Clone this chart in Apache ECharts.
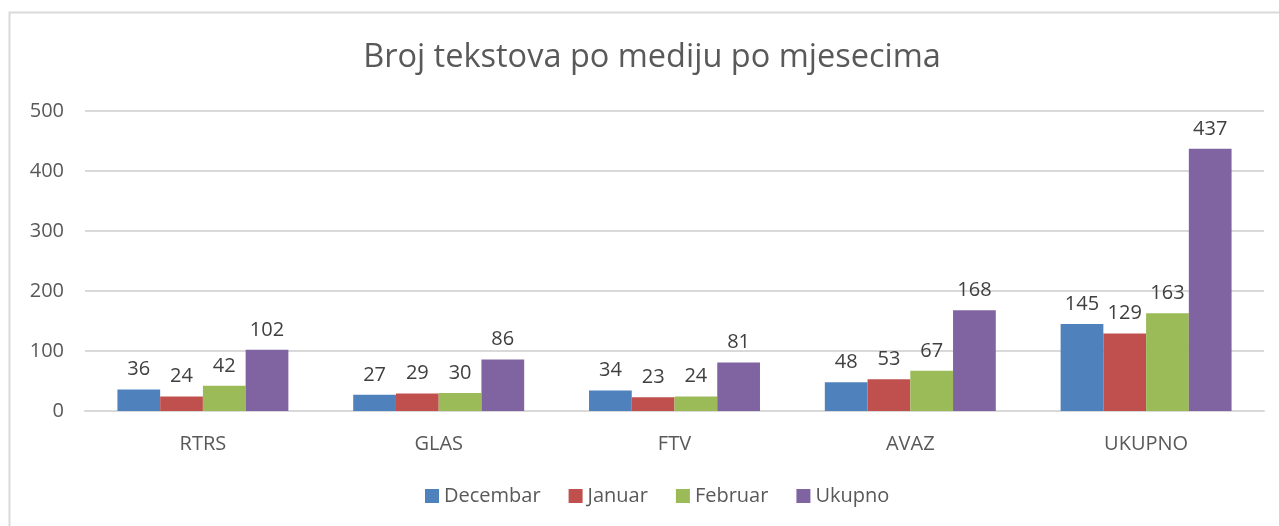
<!DOCTYPE html>
<html>
<head>
<meta charset="utf-8">
<script src="https://cdn.jsdelivr.net/npm/echarts@6/dist/echarts.min.js"></script>
<style>
  html, body { margin: 0; padding: 0; background: #fff; }
  #chart { width: 1279px; height: 526px; }
</style>
</head>
<body>
<div id="chart"></div>
<script>
const categories = ['RTRS', 'GLAS', 'FTV', 'AVAZ', 'UKUPNO'];
const decembar = [36, 27, 34, 48, 145];
const januar = [24, 29, 23, 53, 129];
const februar = [42, 30, 24, 67, 163];
const ukupno = [102, 86, 81, 168, 437];

const font = '"Open Sans", sans-serif';

const chart = echarts.init(document.getElementById('chart'));

const makeSeries = (name, data, color) => ({
  name: name,
  type: 'bar',
  data: data,
  barGap: '0%',
  barCategoryGap: '27.5%',
  itemStyle: { color: color },
  label: {
    show: true,
    position: 'top',
    distance: 10,
    color: '#404040',
    fontSize: 20,
    fontFamily: font
  }
});

chart.setOption({
  backgroundColor: '#ffffff',
  animation: false,
  graphic: [
    {
      type: 'rect',
      shape: { x: 9.5, y: 12.5, width: 1400, height: 600 },
      style: { fill: 'none', stroke: '#d9d9d9', lineWidth: 2 },
      silent: true
    }
  ],
  title: {
    text: 'Broj tekstova po mediju po mjesecima',
    left: 647,
    textAlign: 'center',
    top: 36,
    textStyle: { color: '#595959', fontSize: 32.5, fontWeight: 'normal', fontFamily: font }
  },
  legend: {
    data: ['Decembar', 'Januar', 'Februar', 'Ukupno'],
    bottom: 15,
    left: 420,
    itemWidth: 14,
    itemHeight: 14,
    itemGap: 28,
    icon: 'rect',
    textStyle: { color: '#595959', fontSize: 20, fontFamily: font }
  },
  grid: {
    left: 85,
    right: 15,
    top: 111,
    bottom: 115
  },
  xAxis: {
    type: 'category',
    data: categories,
    axisLine: { lineStyle: { color: '#d9d9d9', width: 2 } },
    axisTick: { show: false },
    axisLabel: { color: '#595959', fontSize: 20, fontFamily: font, margin: 23 }
  },
  yAxis: {
    type: 'value',
    min: 0,
    max: 500,
    interval: 100,
    axisLine: { show: false },
    axisTick: { show: false },
    axisLabel: { color: '#595959', fontSize: 20, fontFamily: font, margin: 21 },
    splitLine: { lineStyle: { color: '#d9d9d9', width: 2 } }
  },
  series: [
    makeSeries('Decembar', decembar, '#4F81BD'),
    makeSeries('Januar', januar, '#C0504D'),
    makeSeries('Februar', februar, '#9BBB59'),
    makeSeries('Ukupno', ukupno, '#8064A2')
  ]
});
</script>
</body>
</html>
